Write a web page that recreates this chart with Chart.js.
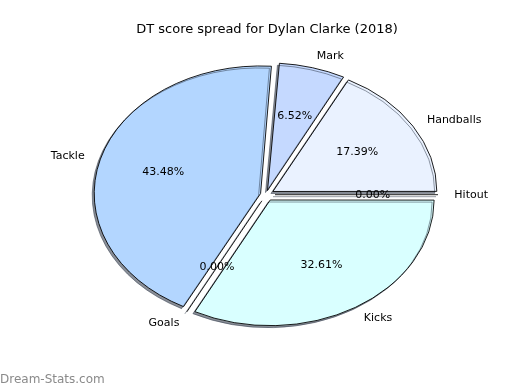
<!DOCTYPE html>
<html>
<head>
<meta charset="utf-8">
<script src="https://cdn.jsdelivr.net/npm/chart.js@4/dist/chart.umd.min.js"></script>
<style>
  html, body { margin: 0; padding: 0; background: #fff; }
  #wrap { width: 520px; height: 390px; position: relative; }
</style>
</head>
<body>
<div id="wrap"><canvas id="pie" width="520" height="390"></canvas></div>
<script>
// slices listed clockwise from 3 o'clock (Chart.js draws clockwise)
const CATEGORIES = ['Hitout', 'Kicks', 'Goals', 'Tackle', 'Mark', 'Handballs'];
const DT_SCORES = [0, 15, 0, 20, 3, 8];
const SLICE_COLORS = ['#f5f5f5', '#d9ffff', '#e0e0e0', '#b3d6ff', '#c5d9ff', '#eaf2ff'];

const TITLE = 'DT score spread for Dylan Clarke (2018)';
const WATERMARK = 'Dream-Stats.com';

const RADIUS = 163;        // horizontal radius in px
const SQUASH = 125 / 163;  // pie is an ellipse in the original
const EXPLODE = 9;         // px shift of every slice
const FONT = '"DejaVu Sans", Verdana, sans-serif';

const total = DT_SCORES.reduce((a, b) => a + b, 0);

// Chart.js moves an arc by offset/4 * (2 - sin(circ)), undo that
function offsetFor(value) {
    const circ = value / total * Math.PI * 2;
    return EXPLODE * 4 / (2 - Math.sin(Math.min(Math.PI, circ)));
}

const ellipsePlugin = {
    id: 'ellipse',
    beforeDatasetsDraw(chart) {
        const arc = chart.getDatasetMeta(0).data[0];
        const ctx = chart.ctx;
        ctx.save();
        ctx.translate(arc.x, arc.y);
        ctx.scale(1, SQUASH);
        ctx.translate(-arc.x, -arc.y);
        ctx.shadowColor = 'rgba(40, 50, 65, 0.55)';
        ctx.shadowOffsetX = -2;
        ctx.shadowOffsetY = 2;
        ctx.shadowBlur = 0;
    },
    afterDatasetsDraw(chart) {
        const ctx = chart.ctx;
        const meta = chart.getDatasetMeta(0);
        // empty slices still show as a line, like matplotlib
        meta.data.forEach((arc, i) => {
            if (DT_SCORES[i] !== 0) return;
            const a = arc.startAngle;
            const ox = arc.x + Math.cos(a) * EXPLODE;
            const oy = arc.y + Math.sin(a) * EXPLODE;
            ctx.beginPath();
            ctx.moveTo(ox, oy);
            ctx.lineTo(ox + Math.cos(a) * RADIUS, oy + Math.sin(a) * RADIUS);
            ctx.lineWidth = 1;
            ctx.strokeStyle = '#000';
            ctx.stroke();
        });
        ctx.restore();

        // labels and percentages
        ctx.save();
        ctx.shadowColor = 'transparent';
        ctx.fillStyle = '#000';
        ctx.font = '11px ' + FONT;
        ctx.textBaseline = 'middle';
        meta.data.forEach((arc, i) => {
            const mid = (arc.startAngle + arc.endAngle) / 2;
            const c = Math.cos(mid), s = Math.sin(mid);
            const e = EXPLODE / RADIUS;

            const lr = (1.1 + e) * RADIUS;
            const lx = arc.x + c * lr;
            const ly = arc.y + s * lr * SQUASH;
            ctx.textAlign = c > 0 ? 'left' : 'right';
            if (Math.abs(c) < 1e-9) ctx.textAlign = 'center';
            ctx.fillText(CATEGORIES[i], lx, ly);

            const pr = (0.6 + e) * RADIUS;
            const px = arc.x + c * pr;
            const py = arc.y + s * pr * SQUASH;
            ctx.textAlign = 'center';
            ctx.fillText((DT_SCORES[i] / total * 100).toFixed(2) + '%', px, py);
        });

        ctx.font = '13px ' + FONT;
        ctx.textAlign = 'center';
        ctx.fillText(TITLE, 267, 30);

        ctx.font = '12px ' + FONT;
        ctx.fillStyle = '#8a8a8a';
        ctx.textAlign = 'left';
        ctx.fillText(WATERMARK, 0, 380);
        ctx.restore();
    }
};

const ctx = document.getElementById('pie').getContext('2d');
window.pieChart = new Chart(ctx, {
    type: 'pie',
    data: {
        labels: CATEGORIES,
        datasets: [{
            data: DT_SCORES,
            backgroundColor: SLICE_COLORS,
            borderColor: '#000',
            borderWidth: 1,
            borderJoinStyle: 'miter',
            offset: (c) => offsetFor(c.raw),
            clip: false
        }]
    },
    options: {
        responsive: false,
        animation: false,
        rotation: 90,
        radius: RADIUS,
        layout: { padding: { left: 20, right: 8, top: 20, bottom: 20.6 } },
        plugins: {
            legend: { display: false },
            title: { display: false },
            tooltip: { enabled: false }
        }
    },
    plugins: [ellipsePlugin]
});
</script>
</body>
</html>
